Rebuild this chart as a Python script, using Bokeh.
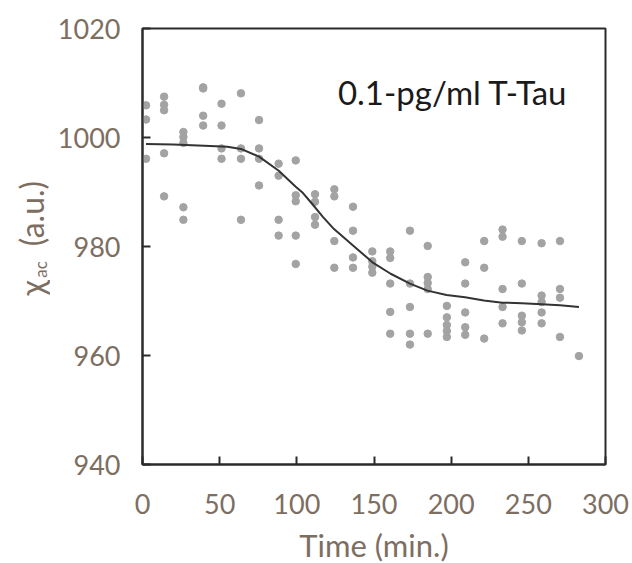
import math
from bokeh.plotting import figure
from bokeh.models import Range1d, FixedTicker, Label, ColumnDataSource
from bokeh.layouts import row, column
from bokeh.core.properties import value
from bokeh.embed import file_html
from bokeh.resources import INLINE

# ---- data ----
col_times = [2.3, 14.0, 26.5, 39.3, 51.2, 63.8, 75.5, 88.2, 99.3, 111.8, 124.3, 136.4,
             148.9, 160.5, 173.3, 184.8, 197.2, 209.1, 221.4, 233.3, 245.8, 258.6, 270.5, 282.8]
col_values = [
    [1005.9, 1003.3, 996.1],
    [1007.5, 1006.0, 1005.0, 997.1, 989.2],
    [1001.0, 1000.1, 999.0, 987.2, 984.9],
    [1009.2, 1009.0, 1004.0, 1002.2],
    [1006.2, 1002.2, 998.0, 996.1],
    [1008.1, 998.0, 996.1, 984.9],
    [1003.2, 998.0, 996.1, 991.2],
    [995.2, 993.0, 984.9, 982.0],
    [995.8, 989.4, 988.3, 982.0, 976.8],
    [989.6, 988.2, 985.4, 984.0],
    [990.5, 989.2, 981.0, 976.1],
    [987.3, 982.9, 978.0, 976.1],
    [979.1, 977.3, 976.3, 975.2],
    [979.1, 977.9, 973.2, 968.0, 964.0],
    [982.9, 973.2, 968.9, 964.0, 962.0],
    [980.1, 974.4, 973.3, 972.2, 964.0],
    [969.1, 967.0, 965.6, 964.5, 963.4],
    [977.1, 973.2, 967.9, 965.2, 963.8],
    [981.0, 976.1, 963.1],
    [983.1, 981.8, 972.2, 968.9, 965.9],
    [981.0, 973.2, 967.3, 966.1, 964.6],
    [980.6, 971.0, 969.8, 967.9, 965.9],
    [981.0, 972.2, 970.6, 963.4],
    [959.9],
]
fit_time = [2.3, 20, 40, 55, 63.8, 75.5, 88.3, 99.1, 104, 110, 117, 124.1, 136.4, 149,
            160.8, 173.3, 184.6, 197, 209, 221.2, 233.2, 245.7, 258.6, 270.5, 282.8]
fit_chi = [998.8, 998.7, 998.5, 998.3, 997.9, 996.5, 993.9, 991.0, 989.8, 987.8, 985.4,
           983.2, 980.2, 977.1, 975.0, 973.2, 971.9, 971.1, 970.7, 970.1, 969.7, 969.6,
           969.4, 969.2, 968.9]
x_ticks = [0, 50, 100, 150, 200, 250, 300]
y_ticks = [940, 960, 980, 1000, 1020]
title_text = "0.1-pg/ml T-Tau"
x_label = "Time (min.)"
y_label_parts = ["\u03c7", "ac", "(a.u.)"]

pts_x = [t for t, vs in zip(col_times, col_values) for _ in vs]
pts_y = [v for vs in col_values for v in vs]

FONT = "Lato"
LABEL_COLOR = "#7d6e62"
DARK = "#2b2b2b"
W, H = 632, 563
LW = 50        # width of the y-label strip
HT = 523       # height of the top row (plot + y-label strip)
HB = H - HT    # height of the x-label strip


def strip(width, height):
    f = figure(width=width, height=height, output_backend="svg", toolbar_location=None,
               x_range=Range1d(0, width), y_range=Range1d(0, height),
               x_axis_location=None, y_axis_location=None,
               min_border_left=0, min_border_right=0, min_border_top=0, min_border_bottom=0)
    f.grid.visible = False
    f.outline_line_color = None
    f.background_fill_color = "white"
    f.border_fill_color = "white"
    return f


# ---- y-axis label strip (rotated) ----
q = strip(LW, HT)
ang = math.pi / 2
q.text(x=[30.5], y=[HT - 311], text=[y_label_parts[0]], angle=ang,
       text_font=value(FONT), text_font_size="32px", text_color=LABEL_COLOR,
       text_align="center", text_baseline="middle")
q.text(x=[39.5], y=[HT - 289], text=[y_label_parts[1]], angle=ang,
       text_font=value(FONT), text_font_size="17px", text_color=LABEL_COLOR,
       text_align="center", text_baseline="middle")
q.text(x=[30.5], y=[HT - 222], text=[y_label_parts[2]], angle=ang,
       text_font=value(FONT), text_font_size="32px", text_color=LABEL_COLOR,
       text_align="center", text_baseline="middle")

# ---- main plot ----
p = figure(width=W - LW, height=HT, output_backend="svg", toolbar_location=None,
           x_range=Range1d(0, 300), y_range=Range1d(940, 1020),
           min_border_left=142 - LW, min_border_right=27, min_border_top=28,
           min_border_bottom=HT - 464)
p.background_fill_color = "white"
p.border_fill_color = "white"
p.grid.visible = False
p.outline_line_color = DARK
p.outline_line_width = 2

for ax in (p.xaxis[0], p.yaxis[0]):
    ax.axis_line_color = DARK
    ax.axis_line_width = 2
    ax.major_tick_in = 8
    ax.major_tick_out = 0
    ax.major_tick_line_color = DARK
    ax.major_tick_line_width = 2
    ax.minor_tick_line_color = None
    ax.major_label_text_font = FONT
    ax.major_label_text_font_size = "27px"
    ax.major_label_text_color = LABEL_COLOR

p.xaxis.ticker = FixedTicker(ticks=x_ticks)
p.yaxis.ticker = FixedTicker(ticks=y_ticks)
p.xaxis.major_label_standoff = 29
p.yaxis.major_label_standoff = 22

src = ColumnDataSource(dict(x=pts_x, y=pts_y))
p.scatter("x", "y", source=src, size=7.5, fill_color="#a3a3a3", line_color="#a3a3a3")
p.line(fit_time, fit_chi, line_color="#333333", line_width=2)

p.add_layout(Label(x=201, y=1008.4, text=title_text, text_font=FONT, text_font_size="33px",
                   text_color="#1a1a1a", text_align="center", text_baseline="middle"))

# ---- x-axis label strip ----
r = strip(W, HB)
r.text(x=[373.5], y=[H - 544], text=[x_label], text_font=value(FONT),
       text_font_size="31px", text_color=LABEL_COLOR,
       text_align="center", text_baseline="middle")

layout = column(row(q, p), r)
open("out.html", "w").write(file_html(layout, INLINE))
